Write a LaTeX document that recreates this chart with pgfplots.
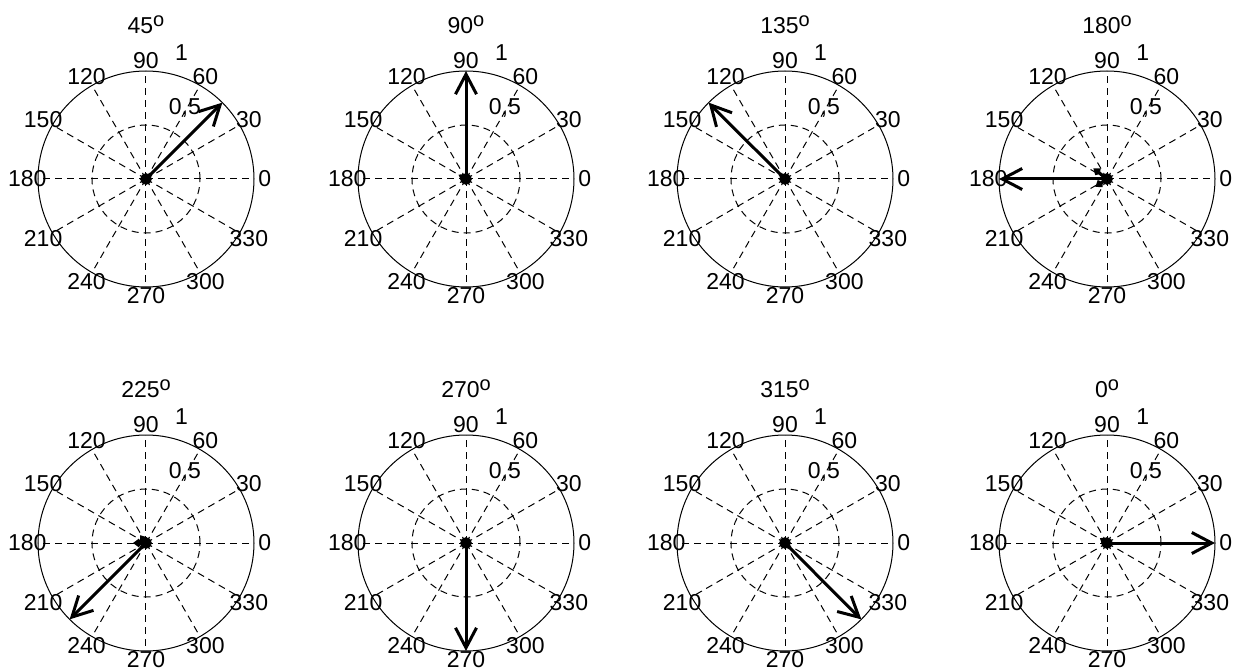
\documentclass[border=0pt]{standalone}
\usepackage{pgfplots}
\pgfplotsset{compat=1.18}
\usetikzlibrary{arrows.meta}
\usepackage{fontspec}
\setmainfont{Liberation Sans}

\tikzset{
  griddash/.style={black, line width=0.5pt, dash pattern=on 3.5pt off 2.5pt},
  mainvec/.style={black, line width=1.5pt, -{Straight Barb[length=10pt,width=10.5pt]}},
  smallvec/.style={black, line width=1.6pt, -{Straight Barb[length=2pt,width=3pt]}},
}

% #1 x (pt), #2 y (pt), #3 title, #4 plots
\newcommand{\compass}[4]{%
\begin{axis}[at={(#1pt,#2pt)}, anchor=origin,
  xmin=-1, xmax=1, ymin=-1, ymax=1,
  width=108pt, height=108pt, scale only axis, hide axis, clip=false,
  font=\fontsize{11.5}{13}\selectfont]
  \draw[black, line width=0.5pt] (axis cs:0,0) circle[radius=54pt];
  \draw[griddash] (axis cs:0,0) circle[radius=27pt];
  \pgfplotsinvokeforeach{0,30,...,240,300,330}{%
    \draw[griddash] (axis cs:0,0) -- ++(##1:54pt);
    \node[shift={(##1:59.4pt)}, inner sep=0pt] at (axis cs:0,0) {##1};
  }
  \draw[griddash] (axis cs:0,0) -- ++(270:54pt);
  \node[shift={(270:58.5pt)}, inner sep=0pt] at (axis cs:0,0) {270};
  \node[inner sep=0pt] at (axis cs:0.33,1.167) {1};
  \node[inner sep=0pt] at (axis cs:0.36,0.66) {0,5};
  \node[inner sep=0pt] at (axis cs:0,1.43) {#3\raisebox{0.55ex}{\fontsize{10}{11}\selectfont o}};
  #4
  \addplot[only marks, mark=*, mark size=2.7pt, black] coordinates {(0,0)};
\end{axis}}

\begin{document}
\begin{tikzpicture}
\useasboundingbox (0,0) rectangle (616.5pt,335.5pt);

\compass{73}{246}{45}{%
  \addplot[mainvec, data cs=polar] coordinates {(45,0) (45,1)};
  \addplot[smallvec, data cs=polar] coordinates {(180,0) (180,0.06)};
  \addplot[smallvec, data cs=polar] coordinates {(200,0) (200,0.04)};
}
\compass{233}{246}{90}{%
  \addplot[mainvec, data cs=polar] coordinates {(90,0) (90,1)};
  \addplot[smallvec, data cs=polar] coordinates {(150,0) (150,0.08)};
  \addplot[smallvec, data cs=polar] coordinates {(200,0) (200,0.05)};
}
\compass{392.5}{246}{135}{%
  \addplot[mainvec, data cs=polar] coordinates {(135,0) (135,1)};
  \addplot[smallvec, data cs=polar] coordinates {(180,0) (180,0.06)};
  \addplot[smallvec, data cs=polar] coordinates {(210,0) (210,0.04)};
}
\compass{553.5}{246}{180}{%
  \addplot[mainvec, data cs=polar] coordinates {(180,0) (180,1)};
  \addplot[smallvec, data cs=polar] coordinates {(142,0) (142,0.16)};
  \addplot[smallvec, data cs=polar] coordinates {(214,0) (214,0.13)};
}
\compass{73}{64}{225}{%
  \addplot[mainvec, data cs=polar] coordinates {(225,0) (225,1)};
  \addplot[smallvec, data cs=polar] coordinates {(127,0) (127,0.09)};
  \addplot[smallvec, data cs=polar] coordinates {(180,0) (180,0.12)};
}
\compass{233}{64}{270}{%
  \addplot[mainvec, data cs=polar] coordinates {(270,0) (270,1)};
  \addplot[smallvec, data cs=polar] coordinates {(150,0) (150,0.06)};
  \addplot[smallvec, data cs=polar] coordinates {(200,0) (200,0.05)};
}
\compass{392.5}{64}{315}{%
  \addplot[mainvec, data cs=polar] coordinates {(315,0) (315,1)};
  \addplot[smallvec, data cs=polar] coordinates {(135,0) (135,0.06)};
  \addplot[smallvec, data cs=polar] coordinates {(160,0) (160,0.05)};
}
\compass{553.5}{64}{0}{%
  \addplot[mainvec, data cs=polar] coordinates {(0,0) (0,1)};
  \addplot[smallvec, data cs=polar] coordinates {(145,0) (145,0.08)};
  \addplot[smallvec, data cs=polar] coordinates {(190,0) (190,0.05)};
}
\end{tikzpicture}
\end{document}
